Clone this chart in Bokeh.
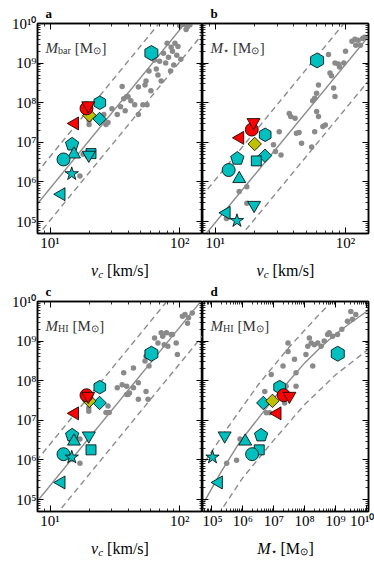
import numpy as np
from bokeh.plotting import figure
from bokeh.models import FixedTicker, LogAxis, Label, CustomJSTickFormatter, Range1d, Title
from bokeh.layouts import column, row
from bokeh.embed import file_html
from bokeh.resources import INLINE

SERIF = "Liberation Serif"
CYAN, RED, OLIVE, GRAY = "#00BFBF", "#FF0000", "#BFBF00", "#8a8a8a"
LINE_GRAY = "#8c8c8c"

# ---------------- data ----------------
# special galaxies (same objects in every panel): name, marker, colour
gal_list = [
    ("hexbig", "hex", CYAN),
    ("hexsmall", "hex", CYAN),
    ("diamond", "diamond", CYAN),
    ("square", "square", CYAN),
    ("downtri", "inverted_triangle", CYAN),
    ("pentagon", "pentagon", CYAN),
    ("uptri", "triangle", CYAN),
    ("circle", "circle", CYAN),
    ("star", "star", CYAN),
    ("lefttri", "left_triangle", CYAN),
    ("olive", "diamond", OLIVE),
    ("redleft", "left_triangle", RED),
    ("redcircle", "circle", RED),
    ("reddown", "inverted_triangle", RED),
]
gal_vc = {"hexbig": 60.5, "hexsmall": 24.2, "diamond": 24.1, "square": 20.7, "downtri": 19.9,
          "pentagon": 14.8, "uptri": 15.3, "circle": 12.7, "star": 14.7, "lefttri": 12.2,
          "olive": 20.1, "redleft": 15.5, "redcircle": 19.1, "reddown": 19.7}
gal_mbar = {"hexbig": 1.8e9, "hexsmall": 1.0e8, "diamond": 3.9e7, "square": 5.2e6, "downtri": 4.8e6,
            "pentagon": 8.9e6, "uptri": 5.0e6, "circle": 3.7e6, "star": 1.6e6, "lefttri": 4.9e5,
            "olive": 4.8e7, "redleft": 3.0e7, "redcircle": 7.2e7, "reddown": 8.5e7}
gal_mstar = {"hexbig": 1.17e9, "hexsmall": 1.55e7, "diamond": 4.6e6, "square": 3.4e6, "downtri": 2.6e5,
             "pentagon": 3.9e6, "uptri": 1.2e6, "circle": 2.0e6, "star": 1.05e5, "lefttri": 1.66e5,
             "olive": 9.1e6, "redleft": 1.3e7, "redcircle": 2.1e7, "reddown": 3.2e7}
gal_mhi = {"hexbig": 4.8e8, "hexsmall": 6.9e7, "diamond": 2.75e7, "square": 1.8e6, "downtri": 4.1e6,
           "pentagon": 4.2e6, "uptri": 2.95e6, "circle": 1.4e6, "star": 1.17e6, "lefttri": 2.7e5,
           "olive": 3.1e7, "redleft": 1.5e7, "redcircle": 4.3e7, "reddown": 4.1e7}

# comparison sample (grey points), log10 masses
a_gray_vc = [100, 108, 115, 120, 112, 92, 80, 86, 97, 88, 75, 82, 95, 70, 78, 90, 102, 66, 58, 68,
             55, 85, 72, 60, 48, 40, 37, 42, 35, 45, 38, 52, 30, 33, 48, 28, 27, 25, 20, 20, 18, 17,
             26, 64, 54, 36, 39, 56]
a_gray_logm = [9.95, 9.98, 9.92, 9.97, 9.85, 9.5, 9.5, 9.4, 9.42, 9.3, 9.25, 9.15, 9.2, 9.05, 9.0,
               8.95, 9.1, 8.85, 8.8, 8.7, 8.55, 8.8, 8.55, 8.3, 8.4, 8.15, 8.1, 8.05, 7.9, 7.95, 7.8,
               7.95, 7.85, 7.7, 7.7, 7.5, 7.45, 7.55, 7.55, 7.45, 6.7, 6.15, 7.7, 9.08, 8.45, 8.41,
               8.16, 7.95]
b_gray_vc = [112, 118, 125, 135, 140, 120, 130, 74, 83, 88, 97, 76, 78, 62, 81, 83, 60, 58, 56, 37,
             38, 41, 60, 62, 70, 67, 31, 42, 44, 58, 46, 55, 28, 29, 32, 15.3, 17.5, 17.5, 12.2, 24,
             100, 90]
b_gray_logm = [9.55, 9.6, 9.58, 9.62, 9.65, 9.45, 9.45, 9.22, 9.0, 8.98, 9.0, 8.75, 8.68, 8.45,
               8.37, 8.16, 8.24, 8.11, 8.05, 7.73, 7.65, 7.61, 7.78, 7.65, 7.44, 7.40, 7.27, 7.23,
               7.25, 7.27, 6.98, 6.88, 6.94, 6.77, 6.68, 5.76, 5.88, 5.46, 5.08, 7.1, 9.3, 8.9]
c_gray_vc = [105, 110, 117, 125, 64, 72, 74, 79, 86, 68, 76, 81, 94, 88, 96, 55, 54, 58, 44, 37, 33,
             36, 39, 44, 39, 41, 55, 28, 48, 57, 19.9, 19.9, 27, 28.6, 17, 17, 14.8, 48, 40, 115]
c_gray_logm = [9.63, 9.67, 9.59, 9.71, 9.08, 9.21, 9.12, 9.21, 9.17, 8.95, 8.91, 8.87, 8.95, 9.17,
               8.66, 8.62, 8.50, 8.37, 8.32, 8.20, 7.82, 7.90, 7.86, 7.82, 7.65, 7.69, 7.73, 7.36,
               7.53, 7.53, 7.31, 7.23, 7.2, 7.2, 6.53, 5.92, 6.01, 7.95, 7.65, 9.45]
d_gray_logms = [9.49, 9.65, 9.54, 9.38, 8.79, 8.90, 8.74, 8.15, 8.21, 8.31, 8.42, 8.10, 8.53, 8.63,
                7.46, 7.46, 7.67, 8.04, 8.26, 7.30, 6.92, 7.72, 7.40, 6.71, 7.72, 6.76, 6.87, 5.91,
                5.48, 5.80, 9.2, 9.06, 7.35]
d_gray_loghi = [9.75, 9.67, 9.55, 9.50, 9.21, 9.12, 9.17, 9.08, 8.95, 8.91, 8.95, 8.87, 8.87, 9.0,
                8.95, 8.74, 8.54, 8.66, 8.37, 8.37, 8.16, 8.20, 7.86, 7.73, 7.86, 7.19, 7.19, 6.53,
                5.92, 5.99, 9.3, 9.17, 7.44]

# scaling relations (solid) and scatter (dashed): end points (log10 M)
rel_vc = [7.0, 180.0]
a_rel = {"mid": [5.22, 10.86], "up": [6.02, 11.66], "lo": [4.41, 10.05]}
b_rel = {"mid": [4.35, 9.99], "up": [5.43, 11.07], "lo": [3.23, 8.87]}
c_rel = {"mid": [4.73, 10.37], "up": [5.78, 11.42], "lo": [3.81, 9.45]}
d_mid_logms = [4.6, 5.3, 5.9, 6.5, 7.0, 7.5, 8.0, 8.5, 9.0, 9.5, 10.2]
d_mid_loghi = [4.73, 5.70, 6.45, 7.05, 7.55, 8.0, 8.45, 8.83, 9.18, 9.47, 9.86]
d_up_logms = [4.6, 5.5, 6.5, 7.5, 8.5, 9.2]
d_up_loghi = [5.75, 6.8, 7.9, 8.85, 9.7, 10.25]
d_lo_logms = [5.2, 6.0, 7.0, 8.0, 9.0, 10.2]
d_lo_loghi = [4.61, 5.55, 6.5, 7.4, 8.15, 8.88]

VC_RANGE = (8.0, 150.0)
MS_RANGE = (5.0e4, 1.15e10)
M_RANGE = (5.0e4, 1.0e10)
vc_major = [10, 100]
vc_minor = [8, 9, 20, 30, 40, 50, 60, 70, 80, 90]
m_major = [1e5, 1e6, 1e7, 1e8, 1e9, 1e10]
m_minor = [k * 10.0 ** e for e in range(4, 10) for k in range(2, 10)]

# ---------------- helpers ----------------
EM_ROMAN = {"[": 0.333, "]": 0.333, "k": 0.5, "m": 0.778, "/": 0.278, "s": 0.389, "M": 0.889,
            "b": 0.5, "a": 0.444, "r": 0.333, "H": 0.722, "I": 0.333, "\u2299": 0.84, "\u22c6": 0.6}
EM_ITALIC = {"M": 0.833, "v": 0.444, "c": 0.444}

POW10 = CustomJSTickFormatter(code="""
const sup = {"0": "\u2070", "1": "\u00b9", "2": "\u00b2", "3": "\u00b3", "4": "\u2074",
             "5": "\u2075", "6": "\u2076", "7": "\u2077", "8": "\u2078", "9": "\u2079", "-": "\u207b"};
const e = Math.round(Math.log10(tick));
return "10" + String(e).split("").map(c => sup[c]).join("");
""")


def tw(s, size, style):
    table = EM_ITALIC if style == "italic" else EM_ROMAN
    return sum(table.get(ch, 0.5) for ch in s) * size


def rich(p, x, y, parts, x_off, y_off, center=False, color="black"):
    """parts: (text, size, style, dy, gap_before)"""
    total = sum(tw(t, sz, st) + g for t, sz, st, dy, g in parts)
    pos = x_off - total / 2 if center else x_off
    for t, sz, st, dy, g in parts:
        pos += g
        p.add_layout(Label(x=x, y=y, x_offset=pos, y_offset=y_off + dy, text=t,
                           text_font=SERIF, text_font_size=f"{sz}px", text_font_style=st,
                           text_color=color, text_baseline="alphabetic", text_align="left"))
        pos += tw(t, sz, st)


def style_axis(ax, labels):
    ax.axis_line_color = "black"
    ax.axis_line_width = 1.5
    ax.major_tick_in = 6
    ax.major_tick_out = 0
    ax.minor_tick_in = 3
    ax.minor_tick_out = 0
    ax.major_tick_line_color = "black"
    ax.minor_tick_line_color = "black"
    ax.major_tick_line_width = 1
    ax.minor_tick_line_width = 0.8
    ax.major_label_text_font = SERIF
    ax.major_label_text_font_size = "15px"
    ax.major_label_text_color = "black"
    ax.major_label_standoff = 1
    ax.axis_label = None
    if labels:
        ax.formatter = POW10
    else:
        ax.formatter = CustomJSTickFormatter(code="return ''")
        ax.major_label_text_font_size = "0px"
        ax.major_label_standoff = 0


def make_fig(xr, xmaj, xmin, fw, left, right, letter, ylabels):
    p = figure(x_axis_type="log", y_axis_type="log", x_range=Range1d(*xr), y_range=Range1d(*M_RANGE),
               frame_width=fw, frame_height=210, min_border_left=left, min_border_right=right,
               min_border_top=22, min_border_bottom=18, output_backend="svg",
               toolbar_location=None, background_fill_color="white", border_fill_color="white",
               title=Title(text=letter, align="left", offset=8, text_font=SERIF,
                           text_font_size="13px", text_font_style="bold", text_color="black",
                           standoff=6))
    p.xgrid.visible = False
    p.ygrid.visible = False
    p.outline_line_color = "black"
    p.outline_line_width = 1.5
    p.xaxis.ticker = FixedTicker(ticks=xmaj, minor_ticks=xmin)
    p.yaxis.ticker = FixedTicker(ticks=m_major, minor_ticks=m_minor)
    style_axis(p.xaxis[0], True)
    style_axis(p.yaxis[0], ylabels)
    top_ax = LogAxis(ticker=FixedTicker(ticks=xmaj, minor_ticks=xmin))
    style_axis(top_ax, False)
    p.add_layout(top_ax, "above")
    right_ax = LogAxis(ticker=FixedTicker(ticks=m_major, minor_ticks=m_minor))
    style_axis(right_ax, False)
    p.add_layout(right_ax, "right")
    return p


def make_strip(h):
    s = figure(x_range=Range1d(0, 374), y_range=Range1d(h, 0), frame_width=374, frame_height=h,
               x_axis_location=None, y_axis_location=None, min_border_left=0, min_border_right=0,
               min_border_top=0, min_border_bottom=0, output_backend="svg", toolbar_location=None,
               background_fill_color="white", border_fill_color="white")
    s.outline_line_color = None
    for g in s.grid:
        g.visible = False
    return s


def draw_lines(p, xs_mid, ys_mid, xs_up, ys_up, xs_lo, ys_lo):
    p.line(xs_mid, ys_mid, line_color=LINE_GRAY, line_width=1.4)
    p.line(xs_up, ys_up, line_color=LINE_GRAY, line_width=1.4, line_dash="6 4")
    p.line(xs_lo, ys_lo, line_color=LINE_GRAY, line_width=1.4, line_dash="6 4")


MSIZE = {"diamond": 9.5, "square": 10, "inverted_triangle": 13, "triangle": 13,
         "circle": 13, "star": 14, "left_triangle": 13}


def draw_special(p, xd, yd):
    for name, mk, col in gal_list:
        x, y = xd[name], yd[name]
        kw = dict(fill_color=col, line_color="black", line_width=0.8)
        if mk == "pentagon":
            p.ngon(x=[x], y=[y], radius=7, radius_units="screen", n=5, **kw)
        elif mk == "hex":
            p.scatter([x], [y], marker="hex", size=15 if name == "hexbig" else 13.5,
                      angle=np.pi / 6, **kw)
        elif mk == "diamond":
            p.scatter([x], [y], marker="square", size=MSIZE[mk], angle=np.pi / 4, **kw)
        elif mk == "left_triangle":
            p.scatter([x], [y], marker="triangle", size=MSIZE[mk], angle=np.pi / 2, **kw)
        else:
            p.scatter([x], [y], marker=mk, size=MSIZE[mk], **kw)


def mass_parts(sub):
    return [("M", 15, "italic", 0, 0), (sub, 10, "normal", -3, 0), ("[M", 15, "normal", 0, 4),
            ("\u2299", 10, "normal", -3, 0), ("]", 15, "normal", 0, 0)]


vc_parts = [("v", 16, "italic", 0, 0), ("c", 11, "italic", -3, 0), ("[km/s]", 16, "normal", 0, 4)]
ms_parts = [("M", 16, "italic", 0, 0), ("\u22c6", 10, "normal", -3, 0), ("[M", 16, "normal", 0, 4),
            ("\u2299", 10, "normal", -3, 0), ("]", 16, "normal", 0, 0)]

# ---------------- panels ----------------
pa = make_fig(VC_RANGE, vc_major, vc_minor, 165, 37, 0, "a", True)
draw_lines(pa, rel_vc, [10 ** v for v in a_rel["mid"]], rel_vc, [10 ** v for v in a_rel["up"]],
           rel_vc, [10 ** v for v in a_rel["lo"]])
pa.scatter(a_gray_vc, [10 ** v for v in a_gray_logm], size=5.5, fill_color=GRAY, line_color=None)
draw_special(pa, gal_vc, gal_mbar)
rich(pa, VC_RANGE[0], M_RANGE[1], mass_parts("bar"), 8, -24, color="#333333")

pb = make_fig(VC_RANGE, vc_major, vc_minor, 166, 0, 6, "b", False)
draw_lines(pb, rel_vc, [10 ** v for v in b_rel["mid"]], rel_vc, [10 ** v for v in b_rel["up"]],
           rel_vc, [10 ** v for v in b_rel["lo"]])
pb.scatter(b_gray_vc, [10 ** v for v in b_gray_logm], size=5.5, fill_color=GRAY, line_color=None)
draw_special(pb, gal_vc, gal_mstar)
rich(pb, VC_RANGE[0], M_RANGE[1], mass_parts("\u22c6"), 8, -24, color="#333333")

pc = make_fig(VC_RANGE, vc_major, vc_minor, 165, 37, 0, "c", True)
draw_lines(pc, rel_vc, [10 ** v for v in c_rel["mid"]], rel_vc, [10 ** v for v in c_rel["up"]],
           rel_vc, [10 ** v for v in c_rel["lo"]])
pc.scatter(c_gray_vc, [10 ** v for v in c_gray_logm], size=5.5, fill_color=GRAY, line_color=None)
draw_special(pc, gal_vc, gal_mhi)
rich(pc, VC_RANGE[0], M_RANGE[1], mass_parts("HI"), 8, -24, color="#333333")

pd_ = make_fig(MS_RANGE, m_major, m_minor, 166, 0, 6, "d", False)
draw_lines(pd_, [10 ** v for v in d_mid_logms], [10 ** v for v in d_mid_loghi],
           [10 ** v for v in d_up_logms], [10 ** v for v in d_up_loghi],
           [10 ** v for v in d_lo_logms], [10 ** v for v in d_lo_loghi])
pd_.scatter([10 ** v for v in d_gray_logms], [10 ** v for v in d_gray_loghi], size=5.5,
            fill_color=GRAY, line_color=None)
draw_special(pd_, gal_mstar, gal_mhi)
rich(pd_, MS_RANGE[0], M_RANGE[1], mass_parts("HI"), 8, -24, color="#333333")

# ---------------- text strips (axis titles) ----------------
mid_strip = make_strip(25)
rich(mid_strip, 119.5, 17, vc_parts, 0, 0, center=True)
rich(mid_strip, 285, 17, vc_parts, 0, 0, center=True)

bot_strip = make_strip(25)
rich(bot_strip, 119.5, 17, vc_parts, 0, 0, center=True)
rich(bot_strip, 285, 17, ms_parts, 0, 0, center=True)

layout = column(row(pa, pb), mid_strip, row(pc, pd_), bot_strip)
open("out.html", "w").write(file_html(layout, INLINE))
